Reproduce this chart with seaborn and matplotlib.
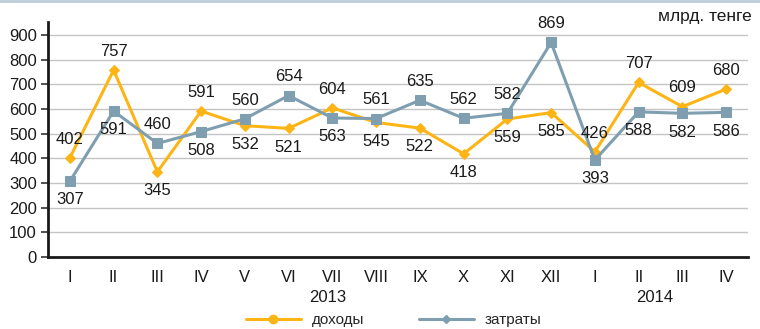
import matplotlib
matplotlib.use("Agg")
import matplotlib.pyplot as plt
import matplotlib.transforms as mtransforms
from matplotlib.lines import Line2D
import numpy as np
import pandas as pd
import seaborn as sns

months = ["I", "II", "III", "IV", "V", "VI", "VII", "VIII", "IX", "X", "XI", "XII",
          "I", "II", "III", "IV"]
years = ["2013", "2014"]
income = [402, 757, 345, 591, 532, 521, 604, 545, 522, 418, 559, 585, 426, 707, 609, 680]
costs = [307, 591, 460, 508, 560, 654, 563, 561, 635, 562, 582, 869, 393, 588, 582, 586]
# label placement: +1 above the point, -1 below
income_side = [1, 1, -1, 1, -1, -1, 1, -1, -1, -1, -1, -1, 1, 1, 1, 1]
costs_side = [-1, -1, 1, -1, 1, 1, -1, 1, 1, 1, 1, 1, -1, -1, -1, -1]

c_income = "#FDB515"
c_costs = "#7F9FB1"

sns.set_theme(style="white")
plt.rcParams['font.family'] = ['Liberation Sans', 'DejaVu Sans']

pos = np.arange(len(months))
df = pd.DataFrame({"pos": np.concatenate([pos, pos]),
                   "value": income + costs,
                   "series": ["доходы"] * len(pos) + ["затраты"] * len(pos)})

fig = plt.figure(figsize=(7.6, 3.29), dpi=100)
ax = fig.add_axes([48 / 760, 1 - 257 / 329, 700 / 760, 235 / 329])

sns.lineplot(data=df[df.series == "доходы"], x="pos", y="value", ax=ax,
             color=c_income, lw=2.2, marker="D", markersize=5.5,
             markeredgecolor=c_income, legend=False)
sns.lineplot(data=df[df.series == "затраты"], x="pos", y="value", ax=ax,
             color=c_costs, lw=2.2, marker="s", markersize=6.5,
             markeredgecolor=c_costs, legend=False)

ax.set_xlim(-0.5, len(months) - 0.5)
ax.set_ylim(0, 952)
ax.set_yticks(range(0, 901, 100))
ax.yaxis.grid(True, color="#C4C4C4", lw=1)
ax.set_axisbelow(True)
ax.set_xlabel("")
ax.set_ylabel("")

ax.set_xticks(pos)
ax.set_xticklabels(months)
ax.set_xticks(np.arange(-0.5, len(months)), minor=True)
ax.tick_params(axis="x", which="major", length=0, pad=9, labelsize=12, colors="#1a1a1a")
ax.tick_params(axis="x", which="minor", length=5, width=1.2, color="#333333", direction="out")
ax.tick_params(axis="y", length=5, width=1.2, color="#333333", labelsize=12,
               labelcolor="#1a1a1a", left=True, pad=3)

for side in ["top", "right"]:
    ax.spines[side].set_visible(False)
for side in ["left", "bottom"]:
    ax.spines[side].set_color("#1a1a1a")
    ax.spines[side].set_linewidth(2)

for vals, sides in [(income, income_side), (costs, costs_side)]:
    for x, v, s in zip(pos, vals, sides):
        ax.annotate(str(v), (x, v), xytext=(0, 13.5 * s), textcoords="offset points",
                    ha="center", va="center", fontsize=12, color="#1a1a1a")

trans = mtransforms.blended_transform_factory(ax.transData, fig.transFigure)
fig.text(5.9, 1 - 297 / 329, years[0], transform=trans, ha="center", va="center",
         fontsize=12, color="#1a1a1a")
fig.text(13.37, 1 - 297 / 329, years[1], transform=trans, ha="center", va="center",
         fontsize=12, color="#1a1a1a")

fig.text(752 / 760, 1 - 17 / 329, "млрд. тенге", ha="right", va="center",
         fontsize=12.5, color="#1a1a1a")

# top border strip
fig.add_artist(Line2D([0, 1], [1 - 1 / 329, 1 - 1 / 329], transform=fig.transFigure,
                      color="#BBCCD9", lw=2))

handles = [Line2D([], [], color=c_income, lw=2.2, marker="o", markersize=6),
           Line2D([], [], color=c_costs, lw=2.2, marker="D", markersize=4.5)]
fig.legend(handles, ["доходы", "затраты"], loc="center", bbox_to_anchor=(0.518, 1 - 320 / 329),
           ncol=2, frameon=False, fontsize=11, handlelength=3.6, columnspacing=3.6,
           handletextpad=0.7)

fig.savefig("out.png", dpi=100)
